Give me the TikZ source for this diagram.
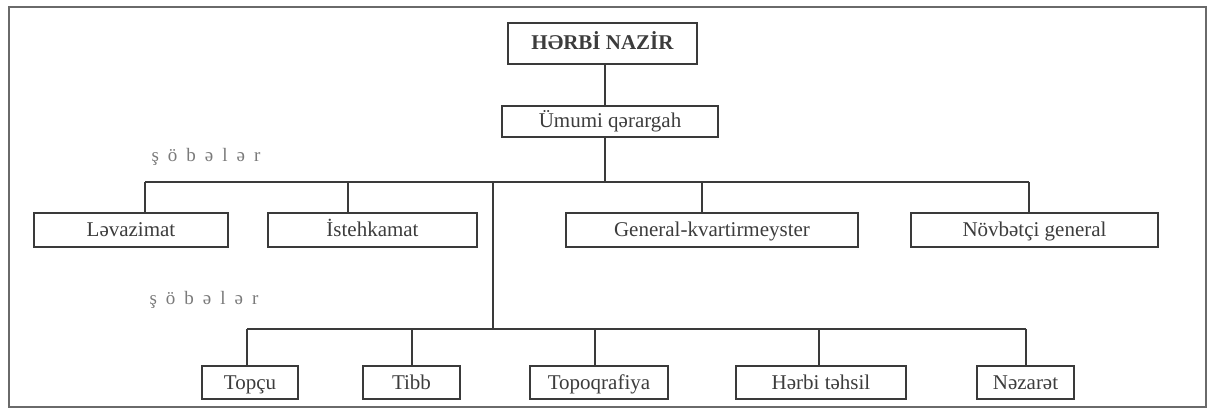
\documentclass[tikz,border=0pt]{standalone}
\usepackage{fontspec}
\setmainfont{Liberation Serif}
\definecolor{linec}{HTML}{3A3A3A}
\definecolor{textc}{HTML}{3C3C3C}
\definecolor{framec}{HTML}{6A6A6A}
\definecolor{labelc}{HTML}{7A7A7A}
\begin{document}
\begin{tikzpicture}[x=1pt,y=-1pt,
  orgbox/.style={draw=linec, line width=1.9pt, inner sep=0pt, text=textc,
    font=\fontsize{21}{23}\selectfont, anchor=center,
    text height=14pt, text depth=1pt},
  rowbox/.style={orgbox, minimum height=34pt},
  lowbox/.style={orgbox, minimum height=33pt},
  conn/.style={draw=linec, line width=1.9pt},
  sublabel/.style={text=labelc, font=\fontsize{19}{21}\selectfont, inner sep=0pt}
]
\useasboundingbox (0,0) rectangle (1211,414);
\draw[framec, line width=1.8pt] (9,7) rectangle (1206,407);

% top
\node[orgbox, minimum width=189pt, minimum height=41pt, font=\fontsize{21}{23}\selectfont\bfseries] (nazir) at (602.5,43.5) {HƏRBİ NAZİR};
\node[orgbox, minimum width=216pt, minimum height=31pt] (umumi) at (610,121.5) {Ümumi qərargah};

% middle row
\node[rowbox, minimum width=194pt] (lev) at (131,230) {Ləvazimat};
\node[rowbox, minimum width=209pt] (ist) at (372.5,230) {İstehkamat};
\node[rowbox, minimum width=292pt] (gen) at (712,230) {General-kvartirmeyster};
\node[rowbox, minimum width=247pt] (nov) at (1034.5,230) {Növbətçi general};

% bottom row
\node[lowbox, minimum width=96pt] (topcu) at (250,382.5) {Topçu};
\node[lowbox, minimum width=97pt] (tibb) at (411.5,382.5) {Tibb};
\node[lowbox, minimum width=138pt] (topo) at (599,382.5) {Topoqrafiya};
\node[lowbox, minimum width=170pt] (herbi) at (821,382.5) {Hərbi təhsil};
\node[lowbox, minimum width=97pt] (nez) at (1025.5,382.5) {Nəzarət};

% labels
\node[sublabel] (lab1) at (206,157) {ş\hspace{9pt}ö\hspace{9pt}b\hspace{9pt}ə\hspace{9pt}l\hspace{9pt}ə\hspace{9pt}r};
\node[sublabel] (lab2) at (204,300) {ş\hspace{9pt}ö\hspace{9pt}b\hspace{9pt}ə\hspace{9pt}l\hspace{9pt}ə\hspace{9pt}r};

% junctions
\coordinate (t0) at (605,182);
\coordinate (jlev) at (145,182);
\coordinate (jist) at (348,182);
\coordinate (jtr) at (493,182);
\coordinate (jgen) at (702,182);
\coordinate (jnov) at (1029,182);
\coordinate (ltr) at (493,329);
\coordinate (jtop) at (247,329);
\coordinate (jtib) at (412,329);
\coordinate (jtpo) at (595,329);
\coordinate (jher) at (819,329);
\coordinate (jnez) at (1026,329);

% connectors
\draw[conn] (nazir.south -| t0) -- (umumi.north -| t0);
\draw[conn] (umumi.south -| t0) -- (t0);
\draw[conn] (jlev) -- (jnov);
\draw[conn] (jlev) -- (jlev |- lev.north);
\draw[conn] (jist) -- (jist |- ist.north);
\draw[conn] (jgen) -- (jgen |- gen.north);
\draw[conn] (jnov) -- (jnov |- nov.north);
\draw[conn] (jtr) -- (ltr);
\draw[conn] (jtop) -- (jnez);
\draw[conn] (jtop) -- (jtop |- topcu.north);
\draw[conn] (jtib) -- (jtib |- tibb.north);
\draw[conn] (jtpo) -- (jtpo |- topo.north);
\draw[conn] (jher) -- (jher |- herbi.north);
\draw[conn] (jnez) -- (jnez |- nez.north);
\end{tikzpicture}
\end{document}
